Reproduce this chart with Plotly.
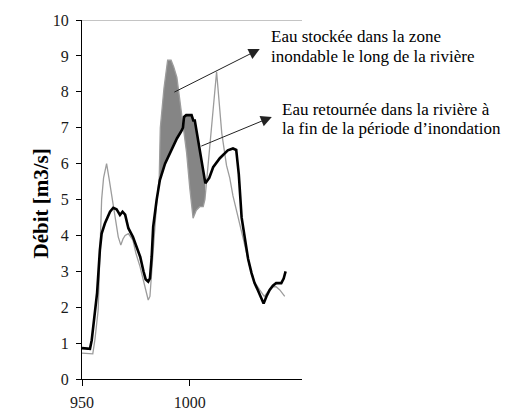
import numpy as np
import plotly.graph_objects as go

# Débit simulé (trait noir épais)
x_noir = [950, 953.7, 954.5, 956, 957, 958.3, 959.1, 960.6, 963, 964.5, 966, 967.6,
          968.8, 970, 971.5, 973.6, 975.3, 977, 978.5, 979.5, 980.7, 981.5, 982.3,
          983, 984.6, 986.1, 988.5, 990, 992, 994, 996, 996.8, 997.3, 998.3, 1000.8,
          1001.6, 1002.3, 1004, 1006, 1007.2, 1007.8, 1009, 1010.8, 1013.9, 1017.6,
          1020, 1021.5, 1022.7, 1024, 1025.5, 1027, 1028.6, 1030, 1031.5, 1033,
          1034.2, 1035.5, 1037, 1038.5, 1040, 1042.4, 1043.5, 1044.4]
y_noir = [0.86, 0.84, 1.08, 1.9, 2.4, 3.6, 4.05, 4.33, 4.66, 4.77, 4.73, 4.57,
          4.66, 4.58, 4.2, 3.96, 3.7, 3.4, 3.0, 2.78, 2.71, 2.8, 3.4,
          4.24, 4.99, 5.54, 6.0, 6.2, 6.45, 6.7, 6.9, 7.0, 7.3, 7.35, 7.35,
          7.2, 7.2, 6.6, 5.95, 5.45, 5.5, 5.6, 5.9, 6.15, 6.37,
          6.42, 6.38, 5.7, 4.5, 3.87, 3.35, 2.95, 2.67, 2.48, 2.28,
          2.1, 2.3, 2.48, 2.6, 2.67, 2.67, 2.8, 3.0]

# Débit observé (trait gris fin)
x_gris = [950, 955, 956, 957.5, 958.3, 959.1, 960, 961.4, 962.5, 964.5, 966.8, 968,
          969, 970, 971.5, 973.6, 975, 976.9, 978.5, 980, 980.7, 981.5, 982.3, 983,
          984.6, 985.8, 986.3, 988, 989.7, 991.3, 992.5, 994, 995.4, 996.8, 998.5,
          1000, 1001.5, 1003, 1004.6, 1006.2, 1007, 1012.4, 1014.8, 1017, 1018.5,
          1020, 1021.5, 1023, 1025, 1027.8, 1030, 1032.4, 1034.5, 1036.5, 1038.4,
          1040, 1041.7, 1044]
y_gris = [0.72, 0.7, 1.1, 1.92, 3.5, 5.0, 5.6, 6.0, 5.6, 4.8, 3.96, 3.73,
          3.9, 4.0, 4.05, 3.87, 3.5, 3.13, 2.7, 2.3, 2.2, 2.3, 3.0, 3.8,
          4.9, 5.6, 7.0, 8.1, 8.88, 8.88, 8.7, 8.4, 7.77, 7.2, 6.3,
          5.3, 4.48, 4.7, 4.8, 4.8, 5.0, 8.56, 6.85, 5.95, 5.6,
          5.1, 4.7, 4.3, 3.85, 3.12, 2.7, 2.48, 2.3, 2.45, 2.57,
          2.57, 2.48, 2.3]

# Fenêtre de l'inondation où l'écart entre les deux débits est grisé
debut_zone, fin_zone = 985.8, 1007.2

y_ticks = list(range(0, 11))
x_ticks = [950, 1000]

lignes_stockee = ["Eau stockée dans la zone", "inondable le long de la rivière"]
lignes_retour = ["Eau retournée dans la rivière à", "la fin de la période d’inondation"]

xn, yn = np.array(x_noir), np.array(y_noir)
xg, yg = np.array(x_gris), np.array(y_gris)
mg = (xg >= debut_zone) & (xg <= fin_zone)
mn = (xn >= debut_zone) & (xn <= fin_zone)
poly_x = list(xg[mg]) + list(xn[mn][::-1])
poly_y = list(yg[mg]) + list(yn[mn][::-1])

fig = go.Figure()
fig.add_trace(go.Scatter(x=poly_x, y=poly_y, mode="lines", fill="toself",
                         fillcolor="#858585", line=dict(width=0), hoverinfo="skip"))
fig.add_trace(go.Scatter(x=x_gris, y=y_gris, mode="lines",
                         line=dict(color="#9c9c9c", width=1.3)))
fig.add_trace(go.Scatter(x=x_noir, y=y_noir, mode="lines",
                         line=dict(color="#000000", width=2.6)))

serif = "Liberation Serif"
tickfont = dict(family=serif, size=16, color="#1a1a1a")

fig.update_layout(
    width=521, height=410,
    margin=dict(l=82, r=219, t=20, b=31),
    paper_bgcolor="white", plot_bgcolor="white",
    showlegend=False,
    xaxis=dict(range=[950, 1052], tickvals=x_ticks, ticks="outside", ticklen=6,
               tickcolor="black", showline=True, linecolor="black", linewidth=1,
               showgrid=False, zeroline=False, tickfont=tickfont,
               ticklabelstandoff=3, automargin=False),
    xaxis2=dict(range=[950, 1052], tickvals=x_ticks, ticks="inside", ticklen=6,
                tickcolor="black", overlaying="x", anchor="y", side="bottom",
                showticklabels=False, showline=False, showgrid=False,
                zeroline=False, automargin=False),
    yaxis=dict(range=[0, 10], tickvals=y_ticks, ticks="outside", ticklen=5,
               tickcolor="black", showline=True, linecolor="black", linewidth=1,
               showgrid=False, zeroline=False, tickfont=tickfont,
               ticklabelstandoff=4, automargin=False),
    yaxis2=dict(range=[0, 10], tickvals=y_ticks, ticks="inside", ticklen=5,
                tickcolor="black", overlaying="y", anchor="x", side="left",
                showticklabels=False, showline=False, showgrid=False,
                zeroline=False, automargin=False),
)

# Bordure supérieure grise du cadre
fig.add_shape(type="line", xref="paper", yref="y", x0=0, x1=1, y0=10, y1=10,
              line=dict(color="#8a8a8a", width=1))

# Titre de l'axe vertical
fig.add_annotation(text="<b>Débit [m3/s]</b>", xref="paper", yref="paper",
                   x=0, y=0.5, xshift=-56, yshift=-4, textangle=-90,
                   showarrow=False, font=dict(family=serif, size=21, color="black"))

# Flèches vers les légendes
fig.add_annotation(x=1032.4, y=9.19, ax=992.1, ay=7.97, xref="x", yref="y",
                   axref="x", ayref="y", text="", showarrow=True, arrowhead=2,
                   arrowsize=2.2, arrowwidth=1, arrowcolor="#222222")
fig.add_annotation(x=1038.0, y=7.30, ax=1004.6, ay=6.47, xref="x", yref="y",
                   axref="x", ayref="y", text="", showarrow=True, arrowhead=2,
                   arrowsize=2.2, arrowwidth=1, arrowcolor="#222222")

# Légendes, une ligne par annotation (interligne de 20 px)
for i, ligne in enumerate(lignes_stockee):
    fig.add_annotation(text=ligne, x=1036.9, y=9.54 - i * 0.557, xref="x", yref="y",
                       xanchor="left", yanchor="middle", showarrow=False,
                       font=dict(family=serif, size=17, color="black"))
for i, ligne in enumerate(lignes_retour):
    fig.add_annotation(text=ligne, x=1041.8, y=7.52 - i * 0.53, xref="x", yref="y",
                       xanchor="left", yanchor="middle", showarrow=False,
                       font=dict(family=serif, size=17, color="black"))

fig.write_html("out.html")
